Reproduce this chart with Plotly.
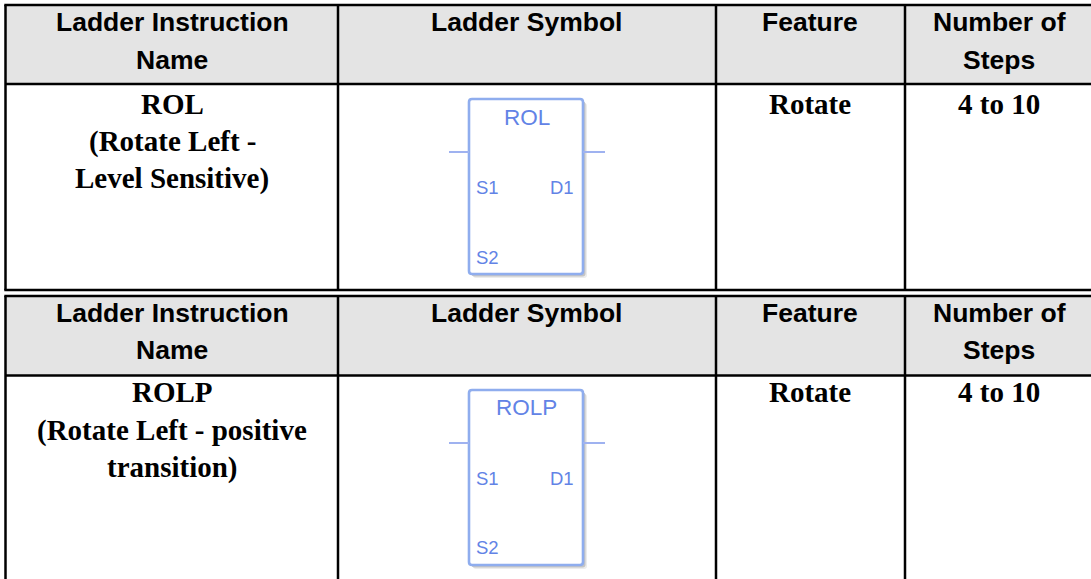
import plotly.graph_objects as go

# ---- content ----
headers_a = ["Ladder Instruction<br>Name", "Ladder Symbol", "Feature", "Number of<br>Steps"]
headers_b = ["Ladder Instruction<br>Name", "Ladder Symbol", "Feature", "Number of<br>Steps"]
names = ["ROL<br>(Rotate Left -<br>Level Sensitive)", "ROLP<br>(Rotate Left - positive<br>transition)"]
symbols = ["ROL", "ROLP"]
features = ["Rotate", "Rotate"]
steps = ["4 to 10", "4 to 10"]
pins = ["S1", "D1", "S2"]

# ---- geometry and style ----
W, H = 1091, 579
COLS = [5.5, 338, 716, 905]
TABLES = [
    dict(top=5, head=84, bottom=290, hx=[172, 526, 809.5, 999], by=[22, 60],
         cx=[172, 809.5, 999], body=[104, 141.5, 178], sym_top=99, sym_bot=274,
         lead=152, title_y=117, pin_y=[187, 257], sym_cx=527),
    dict(top=296, head=375.5, bottom=579, hx=[172, 526, 809.5, 999], by=[313, 350],
         cx=[172, 809.5, 999], body=[392, 430.5, 467], sym_top=390, sym_bot=565,
         lead=443, title_y=407, pin_y=[478, 547], sym_cx=526),
]
SANS = "Liberation Sans"
SERIF = "Liberation Serif"
BLUE_TXT = "#6283e6"
BLUE_BOX = "#8fadee"
BLUE_LEAD = "#9fb2f0"

fig = go.Figure()
shapes, ann = [], []


def line(x0, y0, x1, y1, color="black", width=2.5):
    shapes.append(dict(type="line", xref="x", yref="y", x0=x0, y0=y0, x1=x1, y1=y1,
                       line=dict(color=color, width=width)))


def rounded(x0, y0, x1, y1, r):
    return (f"M{x0+r},{y0} L{x1-r},{y0} Q{x1},{y0} {x1},{y0+r} L{x1},{y1-r} Q{x1},{y1} {x1-r},{y1} "
            f"L{x0+r},{y1} Q{x0},{y1} {x0},{y1-r} L{x0},{y0+r} Q{x0},{y0} {x0+r},{y0} Z")


def text(x, y, s, family, size, color="black", bold=True, xanchor="center"):
    ann.append(dict(xref="x", yref="y", x=x, y=y, text=f"<b>{s}</b>" if bold else s,
                    showarrow=False, xanchor=xanchor, yanchor="middle", align="center",
                    font=dict(family=family, size=size, color=color)))


for i, t in enumerate(TABLES):
    shapes.append(dict(type="rect", xref="x", yref="y", x0=COLS[0], x1=W, y0=t["top"], y1=t["head"],
                       fillcolor="#e4e4e4", line=dict(width=0), layer="below"))
    line(COLS[0] - 1.2, t["top"], W, t["top"])
    line(COLS[0], t["head"], W, t["head"])
    if t["bottom"] < H:
        line(COLS[0] - 1.2, t["bottom"], W, t["bottom"])
    for c in COLS:
        line(c, t["top"], c, t["bottom"])

    heads = headers_a if i == 0 else headers_b
    for h, x in zip(heads, t["hx"]):
        parts = h.split("<br>")
        for p, y in zip(parts, t["by"]):
            text(x, y, p, SANS, 26.5)

    for p, y in zip(names[i].split("<br>"), t["body"]):
        text(t["cx"][0], y, p, SERIF, 29)
    text(t["cx"][1], t["body"][0], features[i], SERIF, 29)
    text(t["cx"][2], t["body"][0], steps[i], SERIF, 29)

    # ladder symbol
    x0, x1 = 469, 583
    for off, shade in ((4, "#ececec"), (2.5, "#c4c4c4")):
        shapes.append(dict(type="path", xref="x", yref="y",
                           path=rounded(x0 + off, t["sym_top"] + off, x1 + off, t["sym_bot"] + off, 3),
                           fillcolor=shade, line=dict(width=0)))
    shapes.append(dict(type="path", xref="x", yref="y",
                       path=rounded(x0, t["sym_top"], x1, t["sym_bot"], 3),
                       fillcolor="white", line=dict(color=BLUE_BOX, width=2.6)))
    line(449, t["lead"], x0, t["lead"], BLUE_LEAD, 2)
    line(x1, t["lead"], 605, t["lead"], BLUE_LEAD, 2)
    text(t["sym_cx"], t["title_y"], symbols[i], SANS, 22.5, BLUE_TXT, bold=False)
    text(474, t["pin_y"][0], pins[0], SANS, 18.5, BLUE_TXT, bold=False, xanchor="left")
    text(575.5, t["pin_y"][0], pins[1], SANS, 18.5, BLUE_TXT, bold=False, xanchor="right")
    text(474, t["pin_y"][1], pins[2], SANS, 18.5, BLUE_TXT, bold=False, xanchor="left")

fig.update_layout(
    width=W, height=H, margin=dict(l=0, r=0, t=0, b=0), showlegend=False,
    paper_bgcolor="white", plot_bgcolor="white", shapes=shapes, annotations=ann,
    xaxis=dict(range=[0, W], visible=False, fixedrange=True),
    yaxis=dict(range=[H, 0], visible=False, fixedrange=True),
)
fig.write_html("out.html", config=dict(displayModeBar=False),
               post_script="document.body.style.margin='0';document.documentElement.style.overflow='hidden';")
